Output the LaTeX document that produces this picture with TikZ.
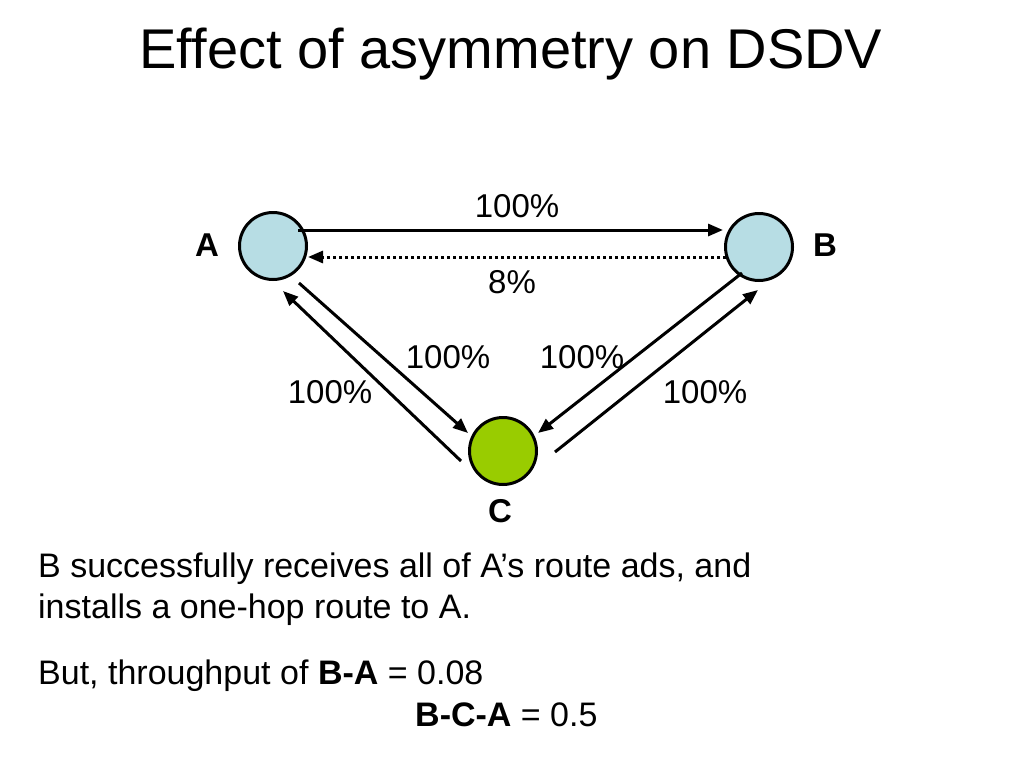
\documentclass[tikz,border=0pt]{standalone}
\usepackage{fontspec}
\setmainfont[Ligatures=NoCommon]{Liberation Sans}
\usepackage{xcolor}
\usetikzlibrary{positioning}
\usetikzlibrary{arrows.meta}
\definecolor{nodeblue}{RGB}{183,221,228}
\definecolor{nodegreen}{RGB}{153,204,0}

\begin{document}
\begin{tikzpicture}[x=1pt, y=-1pt,
    station/.style={circle, draw=black, line width=3pt, minimum size=67pt, inner sep=0pt},
    link/.style={black, line width=3pt, -{Triangle[length=15pt,width=12pt]}},
    weak/.style={link, dash pattern=on 3pt off 3pt},
    pct/.style={font=\fontsize{33}{40}\selectfont, inner sep=0pt},
    tag/.style={font=\fontsize{33}{40}\selectfont\bfseries, inner sep=0pt},
    body/.style={font=\fontsize{34}{41}\selectfont, inner sep=0pt}]
    \useasboundingbox (0,0) rectangle (1024,768);
    % title
    \node[anchor=base, font=\fontsize{56}{60}\selectfont, inner sep=0pt] (title) at (511,68) {Effect of asymmetry on DSDV};
    % the three stations
    \node[station, fill=nodeblue] (A) at (273,246) {};
    \node[station, fill=nodeblue] (B) at (759,247) {};
    \node[station, fill=nodegreen] (C) at (503,451) {};
    \node[tag] (nameA) at (207,245) {A};
    \node[tag] (nameB) at (825,245) {B};
    \node[tag] (nameC) at (500,511) {C};
    % links
    \draw[link] ([shift={(25,-16)}]A.center) -- ([shift={(-36,-17)}]B.center);
    \draw[weak] ([shift={(-33,10)}]B.center) -- ([shift={(35,11)}]A.center);
    \draw[link] ([shift={(26,37)}]A.center) -- ([shift={(-35,-18)}]C.center);
    \draw[link] ([shift={(-42,10)}]C.center) -- ([shift={(10,45)}]A.center);
    \draw[link] ([shift={(-17,26)}]B.center) -- ([shift={(35,-18)}]C.center);
    \draw[link] ([shift={(52,1)}]C.center) -- ([shift={(-1,43)}]B.center);
    % delivery ratios
    \node[pct] (ab) at (517,206) {100\%};
    \node[pct] (ba) at (512,282) {8\%};
    \node[pct] (ac) at (448,357) {100\%};
    \node[pct] (bc) at (582,357) {100\%};
    \node[pct] (ca) at (330,392) {100\%};
    \node[pct] (cb) at (705,392) {100\%};
    % remarks
    \node[body, anchor=base west, align=left] (note) at (38,618) {B successfully receives all of A’s route ads, and\\installs a one-hop route to A.};
    \node[body, anchor=base west] (tputBA) at (38,684) {But, throughput of \textbf{B-A} = 0.08};
    \node[body, anchor=base west] (tputBCA) at (415,726) {\textbf{B-C-A} = 0.5};
\end{tikzpicture}
\end{document}
